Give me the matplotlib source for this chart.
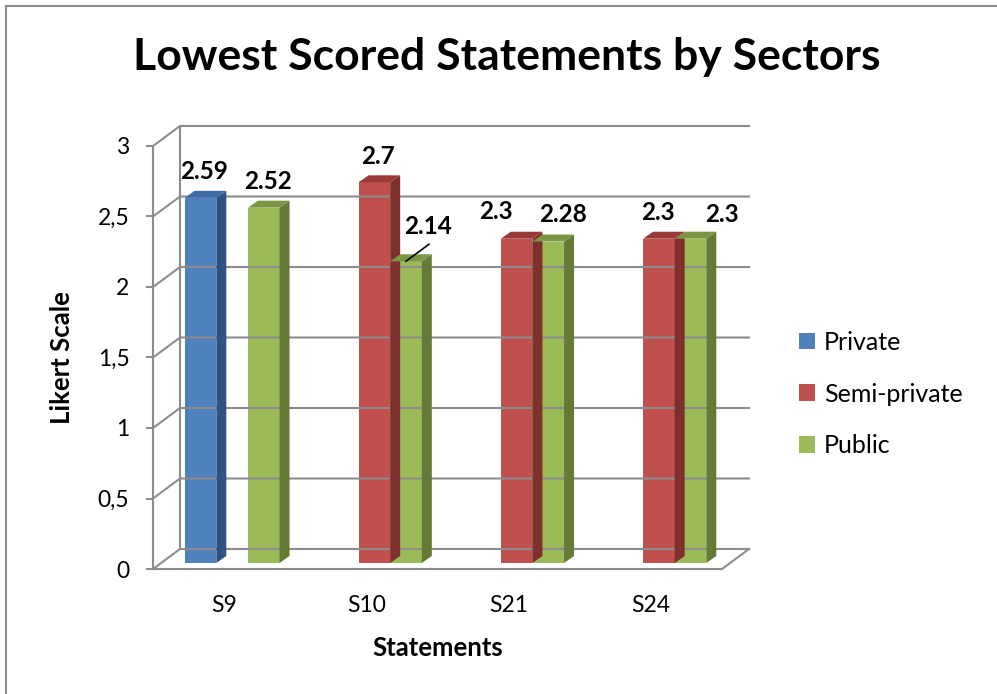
import matplotlib
matplotlib.use("Agg")
import matplotlib.pyplot as plt
from matplotlib import transforms
from matplotlib.patches import Polygon
from matplotlib.lines import Line2D

# ---------------- data ----------------
categories = ["S9", "S10", "S21", "S24"]
series_names = ["Private", "Semi-private", "Public"]
private = [2.59, None, None, None]
semi_private = [None, 2.7, 2.3, 2.3]
public = [2.52, 2.14, 2.28, 2.3]
y_ticks = [0, 0.5, 1, 1.5, 2, 2.5, 3]
y_tick_labels = ["0", "0,5", "1", "1,5", "2", "2,5", "3"]
title = "Lowest Scored Statements by Sectors"
x_title = "Statements"
y_title = "Likert Scale"

# ---------------- style ----------------
FONT = "Lato"
W, H = 997, 694
front_cols = ["#4F81BD", "#C0504D", "#9BBB59"]
side_cols = ["#2F5280", "#7F2F2D", "#647A36"]
top_cols = ["#3F6BA3", "#9A3A38", "#7C9744"]
grid_col = "#8C8C8C"
DEPTH = (27, 20)        # wall depth in px
BAR_OFF = (8, 6)        # bar front offset from front plane
BAR_DEPTH = (10, 7)     # bar side depth
# label offsets (px) relative to top centre of bar front face
label_offsets = {
    (0, 0): (4, 26), (0, 2): (4, 26),
    (1, 1): (4, 26), (1, 2): (22, 35),
    (2, 1): (-21, 27), (2, 2): (15, 27),
    (3, 1): (-1, 26), (3, 2): (31, 24),
}

plt.rcParams["font.family"] = [FONT, "DejaVu Sans"]
fig = plt.figure(figsize=(W / 100, H / 100), dpi=100)
ax = fig.add_axes([153 / W, (H - 569) / H, (722 - 153) / W, (569 - 146) / H])
ax.set_xlim(0, len(categories))
ax.set_ylim(0, 3)
ax.patch.set_visible(False)
for s in ["top", "right"]:
    ax.spines[s].set_visible(False)
for s in ["left", "bottom"]:
    ax.spines[s].set_color(grid_col)
    ax.spines[s].set_linewidth(1.5)
ax.set_yticks(y_ticks)
ax.set_yticklabels(y_tick_labels, fontsize=16.5)
ax.tick_params(axis="y", length=5, width=1.5, color=grid_col, pad=12)
ax.set_xticks([i + 0.5 for i in range(len(categories))])
ax.set_xticklabels(categories, fontsize=16.5)
ax.tick_params(axis="x", length=0, pad=19)
ax.set_xlabel(x_title, fontsize=18.5, fontweight="bold", labelpad=14)
ax.set_ylabel(y_title, fontsize=18.5, fontweight="bold", labelpad=17)

ident = transforms.IdentityTransform()


def disp(x, y, off=(0, 0)):
    p = ax.transData.transform((x, y))
    return (p[0] + off[0], p[1] + off[1])


# back wall gridlines + left wall diagonals
xmax = len(categories)
for v in y_ticks:
    a = disp(0, v)
    b = disp(0, v, DEPTH)
    c = disp(xmax, v, DEPTH)
    fig.add_artist(Line2D([a[0], b[0], c[0]], [a[1], b[1], c[1]], transform=ident,
                          color=grid_col, lw=1.5, zorder=1))
# back wall left vertical
b0 = disp(0, 0, DEPTH)
b3 = disp(0, 3, DEPTH)
fig.add_artist(Line2D([b0[0], b3[0]], [b0[1], b3[1]], transform=ident, color=grid_col, lw=1.5, zorder=1))
# floor right diagonal
f1 = disp(xmax, 0)
f2 = disp(xmax, 0, DEPTH)
fig.add_artist(Line2D([f1[0], f2[0]], [f1[1], f2[1]], transform=ident, color=grid_col, lw=1.5, zorder=1))

# bars
n = len(series_names)
bw = 1.0 / (n + 1.5)
all_series = [private, semi_private, public]
front_tr = transforms.offset_copy(ax.transData, fig=fig, x=BAR_OFF[0], y=BAR_OFF[1], units="dots")
back_off = (BAR_OFF[0] + BAR_DEPTH[0], BAR_OFF[1] + BAR_DEPTH[1])
for si, vals in enumerate(all_series):
    xs, hs = [], []
    for ci, v in enumerate(vals):
        if v is not None:
            xs.append(ci + 0.5 + (si - 1) * bw)
            hs.append(v)
    ax.bar(xs, hs, width=bw, color=front_cols[si], transform=front_tr, zorder=3,
           label=series_names[si], clip_on=False)
    for x, h in zip(xs, hs):
        xl, xr = x - bw / 2, x + bw / 2
        side = [disp(xr, 0, BAR_OFF), disp(xr, 0, back_off), disp(xr, h, back_off), disp(xr, h, BAR_OFF)]
        top = [disp(xl, h, BAR_OFF), disp(xr, h, BAR_OFF), disp(xr, h, back_off), disp(xl, h, back_off)]
        fig.add_artist(Polygon(side, closed=True, transform=ident, facecolor=side_cols[si],
                               edgecolor="none", zorder=2))
        fig.add_artist(Polygon(top, closed=True, transform=ident, facecolor=top_cols[si],
                               edgecolor="none", zorder=2))

# data labels
for si, vals in enumerate(all_series):
    for ci, v in enumerate(vals):
        if v is None:
            continue
        x = ci + 0.5 + (si - 1) * bw
        off = label_offsets[(ci, si)]
        ax.annotate(f"{v:g}", xy=(x, v), xycoords=front_tr,
                    xytext=(off[0] * 0.72, off[1] * 0.72), textcoords="offset points",
                    ha="center", va="center", fontsize=17.5, fontweight="bold", zorder=5,
                    annotation_clip=False)

# leader line for 2.14
p0 = disp(1 + 0.5 + bw, 2.14, BAR_OFF)
fig.add_artist(Line2D([p0[0], p0[0] + 23], [p0[1], p0[1] + 17], transform=ident,
                      color="black", lw=1.2, zorder=6))

# title
fig.text(507 / W, 1 - 57 / H, title, ha="center", va="center", fontsize=32, fontweight="bold")

# legend
ax.legend(loc="center left", bbox_to_anchor=(799 / W, 1 - 394 / H), bbox_transform=fig.transFigure,
          frameon=False, fontsize=18, handlelength=0.64, handleheight=0.64, handletextpad=0.36,
          labelspacing=1.15, borderaxespad=0, borderpad=0)

# outer border (top and left)
fig.add_artist(Line2D([6, W + 5], [H - 6, H - 6], transform=ident, color="#8C8C8C", lw=1.5))
fig.add_artist(Line2D([6, 6], [H - 6, -5], transform=ident, color="#8C8C8C", lw=1.5))

fig.savefig("out.png", dpi=100, facecolor="white")
